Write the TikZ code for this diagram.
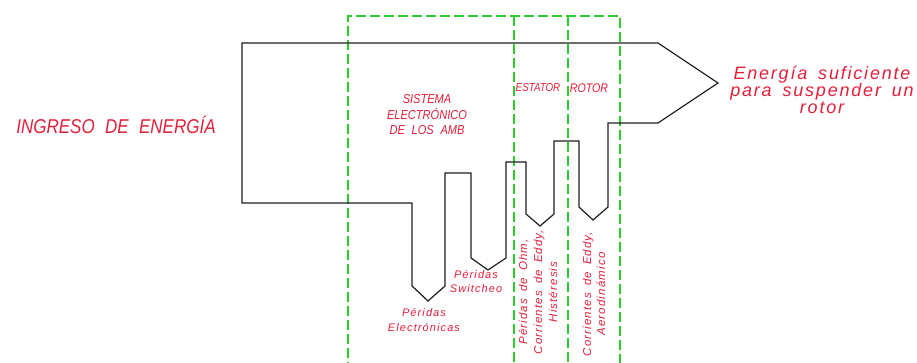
\documentclass[tikz,border=0pt]{standalone}
\usepackage{fontspec}
\setmainfont{Liberation Sans}
\newfontfamily\cadup[FakeStretch=0.85,WordSpace=2.2]{Liberation Sans}
\newfontfamily\cadlow[LetterSpace=10,WordSpace=1.6]{Liberation Sans}
\definecolor{redtxt}{RGB}{225,32,58}
\definecolor{grn}{RGB}{45,205,45}
\definecolor{ink}{RGB}{30,30,30}
\begin{document}
\begin{tikzpicture}[x=1pt,y=-1pt,
  flow/.style={draw=ink, line width=1.2pt, line join=miter},
  zone/.style={draw=grn, line width=1.3pt, dash pattern=on 10pt off 4pt},
  lbl/.style={text=redtxt, align=center, inner sep=0pt}]
\useasboundingbox (0,0) rectangle (917,363);

% green dashed zones
\draw[zone] (348,372) -- (348,16) -- (620,16) -- (620,372);
\draw[zone] (514,16) -- (514,372);
\draw[zone] (568,16) -- (568,372);

% energy flow outline
\draw[flow] (242,43) -- (658,43) -- (718,83) -- (658,123) -- (608,123)
  -- (608,207) -- (593,220) -- (579,207) -- (579,141) -- (554,141)
  -- (554,214) -- (540,226) -- (526,214) -- (526,162) -- (506,162)
  -- (506,258) -- (488,270) -- (471,258) -- (471,173) -- (445,173)
  -- (445,286) -- (428,301) -- (412,286) -- (412,203) -- (242,203) -- cycle;

% labels
\node[lbl, font=\cadup\itshape\fontsize{20}{20}\selectfont] (ingreso) at (116,125) {INGRESO DE ENERGÍA};
\node[lbl, font=\cadup\itshape\fontsize{13}{15.5}\selectfont] (sistema) at (427,115) {SISTEMA\\ELECTRÓNICO\\DE LOS AMB};
\node[lbl, font=\cadup\itshape\fontsize{11.5}{12}\selectfont] (estator) at (538,88) {ESTATOR};
\node[lbl, font=\cadup\itshape\fontsize{12.5}{12}\selectfont] (rotor) at (589,88) {ROTOR};
\node[lbl, font=\cadlow\itshape\fontsize{18}{17}\selectfont] (salida) at (822,90) {Energía suficiente\\para suspender un\\rotor};
\node[lbl, font=\cadlow\itshape\fontsize{11}{14.5}\selectfont] (pelec) at (424,320) {Péridas\\Electrónicas};
\node[lbl, font=\cadlow\itshape\fontsize{11}{14}\selectfont] (pswitch) at (476,282) {Péridas\\Switcheo};
\node[lbl, rotate=90, font=\cadlow\itshape\fontsize{11.5}{15}\selectfont] (pohm) at (538,292) {Péridas de Ohm,\\Corrientes de Eddy,\\Histéresis};
\node[lbl, rotate=90, font=\cadlow\itshape\fontsize{11.5}{14}\selectfont] (paero) at (594,294) {Corrientes de Eddy,\\Aerodinámico};
\end{tikzpicture}
\end{document}
